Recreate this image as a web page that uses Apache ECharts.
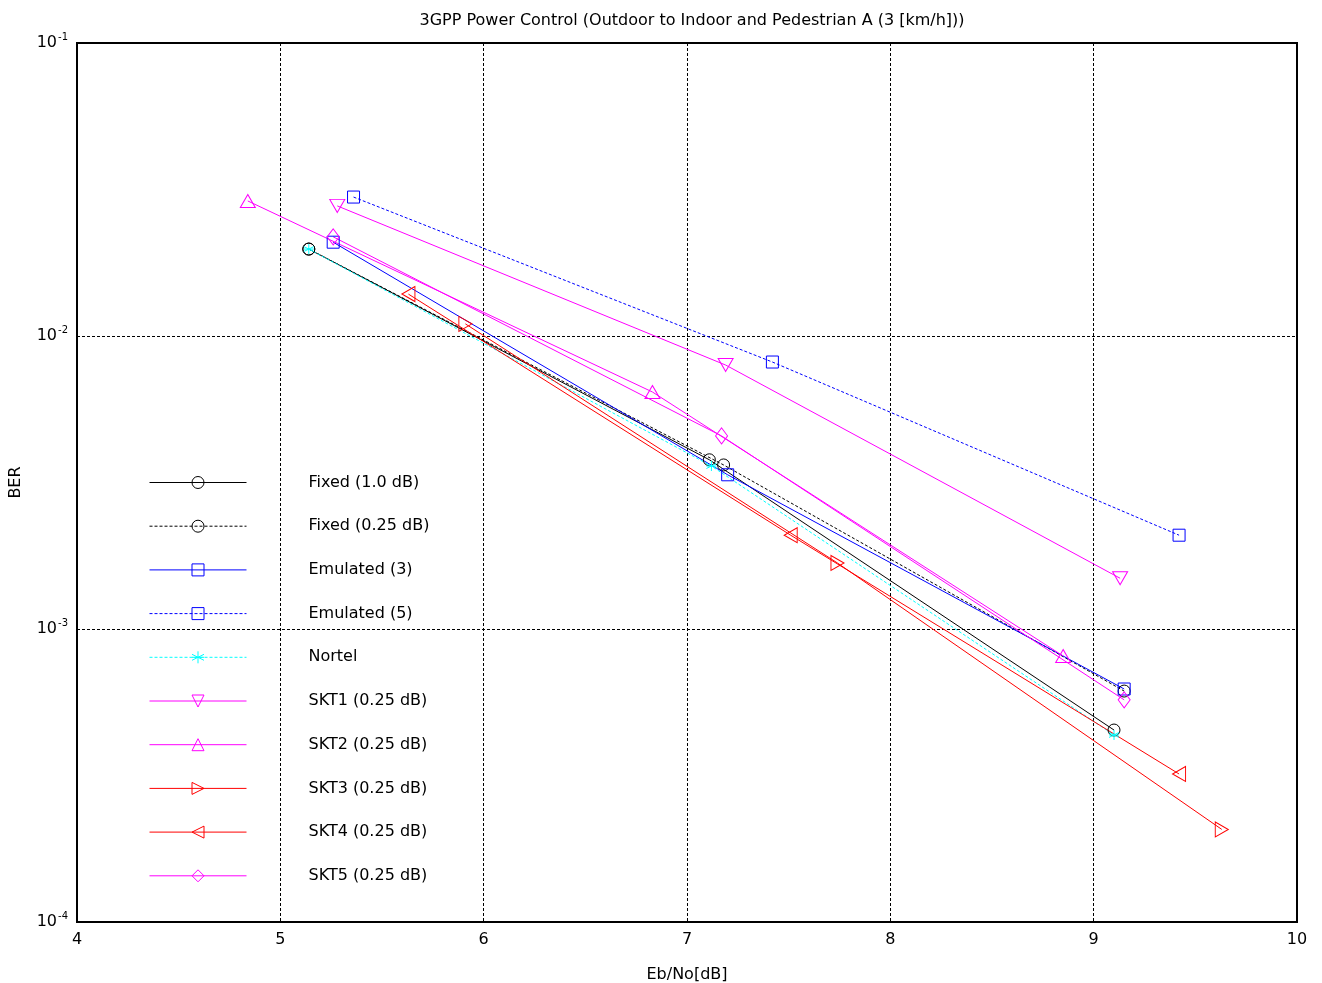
<!DOCTYPE html>
<html>
<head>
<meta charset="utf-8">
<script src="https://cdn.jsdelivr.net/npm/echarts@6/dist/echarts.min.js"></script>
<style>
  html, body { margin: 0; padding: 0; background: #fff; }
  #chart { width: 1322px; height: 983px; }
</style>
</head>
<body>
<div id="chart"></div>
<script>
// Eb/No [dB] and BER for each power-control scheme
const fixed10X = [5.14, 7.11, 9.10];
const fixed10Y = [0.0198, 0.00378, 0.000452];
const fixed025X = [5.14, 7.18, 9.15];
const fixed025Y = [0.0198, 0.00363, 0.000614];
const emu3X = [5.26, 7.20, 9.15];
const emu3Y = [0.0209, 0.00336, 0.000624];
const emu5X = [5.36, 7.42, 9.42];
const emu5Y = [0.0298, 0.00815, 0.00209];
const nortelX = [5.14, 7.12, 9.10];
const nortelY = [0.0198, 0.00360, 0.000435];
const skt1X = [5.28, 7.19, 9.13];
const skt1Y = [0.0278, 0.00796, 0.00149];
const skt2X = [4.84, 6.83, 8.85];
const skt2Y = [0.0289, 0.00644, 0.000809];
const skt3X = [5.91, 7.74, 9.63];
const skt3Y = [0.0110, 0.00168, 0.000207];
const skt4X = [5.63, 7.51, 9.42];
const skt4Y = [0.0139, 0.00209, 0.00032];
const skt5X = [5.26, 7.17, 9.15];
const skt5Y = [0.0218, 0.00456, 0.000573];

const seriesNames = ['Fixed (1.0 dB)', 'Fixed (0.25 dB)', 'Emulated (3)', 'Emulated (5)', 'Nortel',
  'SKT1 (0.25 dB)', 'SKT2 (0.25 dB)', 'SKT3 (0.25 dB)', 'SKT4 (0.25 dB)', 'SKT5 (0.25 dB)'];

const FONT = 'DejaVu Sans';
const DASH = [3, 2];

const SYM_DOWN = 'path://M0,0 L10,0 L5,10 Z';
const SYM_UP = 'path://M5,0 L10,10 L0,10 Z';
const SYM_RIGHT = 'path://M0,0 L10,5 L0,10 Z';
const SYM_LEFT = 'path://M10,0 L0,5 L10,10 Z';
const SYM_STAR = 'path://M5,0 L5,10 M0,2.5 L10,7.5 M0,7.5 L10,2.5 M0,5 L10,5';

function pairs(xs, ys) {
  return xs.map((x, i) => [x, ys[i]]);
}

function makeSeries(name, xs, ys, color, dashed, symbol, size) {
  return {
    name: name,
    type: 'line',
    data: pairs(xs, ys),
    symbol: symbol,
    symbolSize: size,
    showAllSymbol: true,
    animation: false,
    lineStyle: { color: color, width: 1, type: dashed ? DASH : 'solid' },
    itemStyle: { color: 'none', borderColor: color, borderWidth: 1 },
    emphasis: { disabled: true }
  };
}

const series = [
  makeSeries(seriesNames[0], fixed10X, fixed10Y, '#000000', false, 'circle', 12),
  makeSeries(seriesNames[1], fixed025X, fixed025Y, '#000000', true, 'circle', 12),
  makeSeries(seriesNames[2], emu3X, emu3Y, '#0000ff', false, 'rect', 12),
  makeSeries(seriesNames[3], emu5X, emu5Y, '#0000ff', true, 'rect', 12),
  makeSeries(seriesNames[4], nortelX, nortelY, '#00ffff', true, SYM_STAR, 10),
  makeSeries(seriesNames[5], skt1X, skt1Y, '#ff00ff', false, SYM_DOWN, [15, 13]),
  makeSeries(seriesNames[6], skt2X, skt2Y, '#ff00ff', false, SYM_UP, [15, 13]),
  makeSeries(seriesNames[7], skt3X, skt3Y, '#ff0000', false, SYM_RIGHT, [13, 15]),
  makeSeries(seriesNames[8], skt4X, skt4Y, '#ff0000', false, SYM_LEFT, [13, 15]),
  makeSeries(seriesNames[9], skt5X, skt5Y, '#ff00ff', false, 'diamond', [12, 16])
];

const chart = echarts.init(document.getElementById('chart'), null, { renderer: 'canvas' });

chart.setOption({
  backgroundColor: '#ffffff',
  animation: false,
  title: {
    text: '3GPP Power Control (Outdoor to Indoor and Pedestrian A (3 [km/h]))',
    left: 687,
    top: 8,
    textAlign: 'center',
    textStyle: { fontFamily: FONT, fontSize: 16, fontWeight: 'normal', color: '#000' }
  },
  grid: {
    left: 77, right: 25, top: 43, bottom: 61,
    containLabel: false,
    outerBoundsMode: 'none',
    show: true, borderColor: '#000', borderWidth: 2, backgroundColor: 'transparent'
  },
  legend: {
    orient: 'vertical',
    left: 149,
    top: 474,
    padding: 0,
    itemWidth: 97,
    itemHeight: 15,
    itemGap: 26.7,
    selectedMode: false,
    data: seriesNames,
    lineStyle: { width: 1 },
    itemStyle: { borderWidth: 1 },
    textStyle: { fontFamily: FONT, fontSize: 16, color: '#000', lineHeight: 16, padding: [0, 0, 0, 57] }
  },
  xAxis: {
    type: 'value',
    min: 4, max: 10, interval: 1,
    name: 'Eb/No[dB]',
    nameLocation: 'middle',
    nameGap: 45,
    nameTextStyle: { fontFamily: FONT, fontSize: 16, color: '#000' },
    axisLine: { show: false },
    axisTick: { show: false },
    axisLabel: { fontFamily: FONT, fontSize: 16, color: '#000', margin: 10 },
    splitLine: { show: true, lineStyle: { color: '#000', width: 1, type: DASH } }
  },
  yAxis: {
    type: 'log',
    logBase: 10,
    min: 0.0001, max: 0.1,
    name: 'BER',
    nameLocation: 'middle',
    nameGap: 53,
    nameTextStyle: { fontFamily: FONT, fontSize: 16, color: '#000' },
    axisLine: { show: false },
    axisTick: { show: false },
    minorSplitLine: { show: false },
    axisLabel: {
      margin: 9,
      formatter: function (v) {
        const e = Math.round(Math.log10(v));
        return '{b|10}{s|' + e + '}';
      },
      rich: {
        b: { fontFamily: FONT, fontSize: 16, color: '#000' },
        s: { fontFamily: FONT, fontSize: 10, color: '#000', padding: [0, 0, 12, 1] }
      }
    },
    splitLine: { show: true, lineStyle: { color: '#000', width: 1, type: DASH } }
  },
  series: series
});
</script>
</body>
</html>
